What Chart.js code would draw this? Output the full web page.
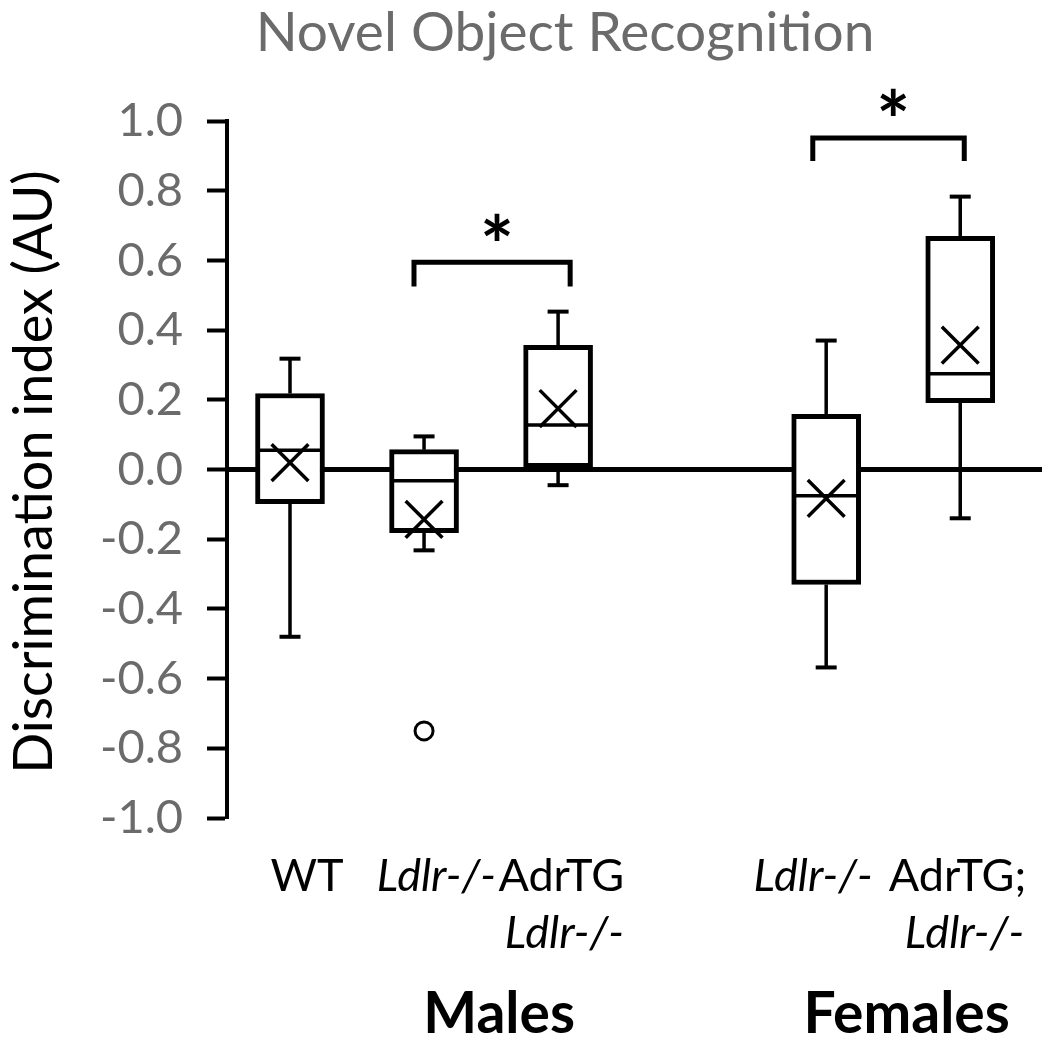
<!DOCTYPE html>
<html><head><meta charset="utf-8">
<script src="https://cdn.jsdelivr.net/npm/chart.js@4/dist/chart.umd.min.js"></script>
<style>html,body{margin:0;padding:0;background:#fff}#wrap{width:1050px;height:1046px;position:relative}</style>
</head><body><div id="wrap"><canvas id="c" width="1050" height="1046"></canvas></div>
<script>
// ---- data ----
const chartTitle = 'Novel Object Recognition';
const yAxisTitle = 'Discrimination index (AU)';
const groupLabels = [['WT'], ['Ldlr-/-'], ['AdrTG', 'Ldlr-/-'], ['Ldlr-/-'], ['AdrTG;', 'Ldlr-/-']];
const sexLabels = ['Males', 'Females'];
const slots = [0, 1, 2, 4, 5];          // category slots (slot 3 is the gap between sexes)
const whiskerLow  = [-0.48, -0.232, -0.045, -0.568, -0.14];
const quartile1   = [-0.098, -0.181, 0.005, -0.33, 0.192];
const medians     = [0.055, -0.032, 0.128, -0.075, 0.275];
const quartile3   = [0.218, 0.057, 0.356, 0.158, 0.669];
const whiskerHigh = [0.318, 0.095, 0.453, 0.37, 0.783];
const means       = [0.02, -0.143, 0.175, -0.083, 0.357];
const outliers    = [[], [-0.75], [], [], []];
const yMin = -1.0, yMax = 1.0, yStep = 0.2;
// significance brackets (pairs of groups) and their heights
const sigFrom  = [0.925, 3.9];
const sigTo    = [2.09, 5.03];
const sigLevel = [0.595, 0.951];
const sigLeg   = [0.07, 0.066];
const sigMark  = ['*', '*'];
const sigStarX = [1.545, 4.5];
const sigStarY = [0.696, 1.055];

// ---- derived datasets ----
const boxData = slots.map((s, i) => ({x: s, y: [quartile1[i], quartile3[i]]}));
const whiskerData = [];
slots.forEach((s, i) => {
  whiskerData.push({x: s, y: quartile3[i]}, {x: s, y: whiskerHigh[i]}, {x: s, y: null});
  whiskerData.push({x: s, y: quartile1[i]}, {x: s, y: whiskerLow[i]}, {x: s, y: null});
});
const capData = [];
slots.forEach((s, i) => { capData.push({x: s, y: whiskerHigh[i]}, {x: s, y: whiskerLow[i]}); });
const medianData = slots.map((s, i) => ({x: s, y: medians[i]}));
const meanData = slots.map((s, i) => ({x: s, y: means[i]}));
const outlierData = [];
slots.forEach((s, i) => outliers[i].forEach(v => outlierData.push({x: s, y: v})));
const bracketData = [];
sigFrom.forEach((f, i) => {
  bracketData.push({x: f, y: sigLevel[i] - sigLeg[i]}, {x: f, y: sigLevel[i]},
                   {x: sigTo[i], y: sigLevel[i]}, {x: sigTo[i], y: sigLevel[i] - sigLeg[i]}, {x: sigTo[i], y: null});
});
const xMin = -0.47, xMax = 5.61;

const FONT = 'Lato';
const textPlugin = {
  id: 'texts',
  afterDraw(chart) {
    const ctx = chart.ctx;
    const xs = chart.scales.x, ys = chart.scales.y;
    ctx.save();
    // title
    ctx.fillStyle = '#6b6b6b';
    ctx.font = `55px ${FONT}`;
    ctx.textAlign = 'center';
    ctx.textBaseline = 'alphabetic';
    ctx.fillText(chartTitle, 565, 51);
    // y title
    ctx.save();
    ctx.translate(52, 472);
    ctx.rotate(-Math.PI / 2);
    ctx.fillStyle = '#000';
    ctx.font = `54px ${FONT}`;
    ctx.textAlign = 'center';
    ctx.fillText(yAxisTitle, 0, 0);
    ctx.restore();
    // significance stars
    ctx.fillStyle = '#000';
    ctx.font = `bold 80px ${FONT}`;
    ctx.textAlign = 'center';
    sigMark.forEach((m, i) => {
      const met = ctx.measureText(m);
      const cy = ys.getPixelForValue(sigStarY[i]);
      const base = cy + (met.actualBoundingBoxAscent - met.actualBoundingBoxDescent) / 2;
      ctx.fillText(m, xs.getPixelForValue(sigStarX[i]), base);
    });
    // category labels
    const row1 = 891, row2 = 948;
    const place = [[[17, 'center']], [[72, 'right']], [[66, 'right'], [66, 'right']],
                   [[-13, 'center']], [[66, 'right'], [64, 'right']]];
    groupLabels.forEach((lines, i) => {
      const px = xs.getPixelForValue(slots[i]);
      lines.forEach((t, j) => {
        ctx.font = (t.startsWith('Ldlr') ? 'italic ' : '') + `45px ${FONT}`;
        ctx.textAlign = place[i][j][1];
        ctx.fillText(t, px + place[i][j][0], j === 0 ? row1 : row2);
      });
    });
    // sex labels
    ctx.font = `bold 57px ${FONT}`;
    ctx.textAlign = 'center';
    ctx.fillText(sexLabels[0], xs.getPixelForValue(1.56), 1033);
    ctx.fillText(sexLabels[1], xs.getPixelForValue(4.6), 1033);
    ctx.restore();
  }
};

function build() {
  new Chart(document.getElementById('c'), {
    data: {
      datasets: [
        {type: 'line', data: [{x: xMin, y: 0}, {x: xMax, y: 0}], borderColor: '#000', borderWidth: 5,
         borderCapStyle: 'round', pointRadius: 0, order: 6},
        {type: 'line', data: whiskerData, borderColor: '#000', borderWidth: 3.5, pointRadius: 0, spanGaps: false, order: 5},
        {type: 'bar', data: boxData, backgroundColor: '#fff', borderColor: '#000', borderWidth: 5,
         borderSkipped: false, barThickness: 69, order: 4},
        {type: 'line', data: medianData, showLine: false, pointStyle: 'line', pointRadius: 32,
         pointBorderWidth: 3.5, borderColor: '#000', order: 3},
        {type: 'line', data: capData, showLine: false, pointStyle: 'line', pointRadius: 10.5,
         pointBorderWidth: 4, borderColor: '#000', order: 2},
        {type: 'line', data: meanData, showLine: false, pointStyle: 'crossRot', pointRadius: 26,
         pointBorderWidth: 3.5, borderColor: '#000', order: 1},
        {type: 'line', data: outlierData, showLine: false, pointStyle: 'circle', pointRadius: 9,
         pointBorderWidth: 3, borderColor: '#000', pointBackgroundColor: '#fff', order: 1},
        {type: 'line', data: bracketData, borderColor: '#000', borderWidth: 5, borderJoinStyle: 'miter',
         pointRadius: 0, spanGaps: false, order: 1, clip: false}
      ]
    },
    options: {
      responsive: false, animation: false, events: [],
      layout: {autoPadding: false, padding: {left: 0, top: 121, right: 8, bottom: 228}},
      plugins: {legend: {display: false}, tooltip: {enabled: false}, title: {display: false}},
      scales: {
        x: {type: 'linear', min: xMin, max: xMax, offset: false, display: false},
        y: {
          type: 'linear', min: yMin, max: yMax,
          afterFit(s) { s.width = 227; },
          ticks: {stepSize: yStep, autoSkip: false, color: '#6b6b6b', padding: 24,
                  font: {family: FONT, size: 47},
                  callback: v => (Math.abs(v) < 1e-9 ? 0 : v).toFixed(1)},
          grid: {drawOnChartArea: false, drawTicks: true, tickLength: 20, tickColor: '#000', tickWidth: 4},
          border: {display: true, color: '#000', width: 4}
        }
      }
    },
    plugins: [textPlugin]
  });
}
Promise.all([document.fonts.load(`47px ${FONT}`), document.fonts.load(`italic 45px ${FONT}`), document.fonts.load(`bold 57px ${FONT}`)])
  .then(build, build);
</script>
</body></html>
